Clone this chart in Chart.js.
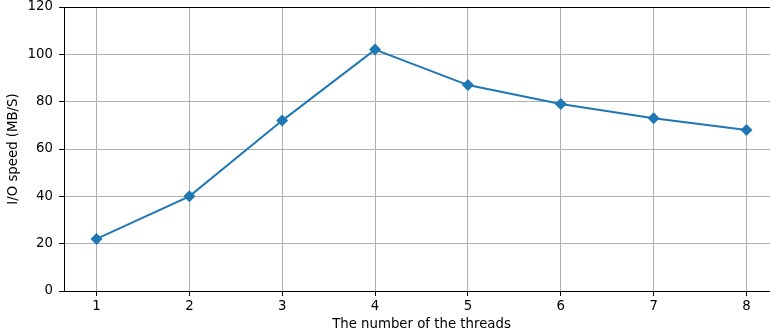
<!DOCTYPE html>
<html>
<head>
<meta charset="utf-8">
<script src="https://cdn.jsdelivr.net/npm/chart.js@4/dist/chart.umd.min.js"></script>
<style>
html,body{margin:0;padding:0;background:#fff;overflow:hidden;width:770px;height:335px;}
canvas{display:block;}
</style>
</head>
<body>
<canvas id="c" width="785" height="335" style="width:785px;height:335px;"></canvas>
<script>
const threads = [1, 2, 3, 4, 5, 6, 7, 8];
const ioSpeed = [22, 40, 72, 102, 87, 79, 73, 68];
const yTicks = [0, 20, 40, 60, 80, 100, 120];
const xLabel = 'The number of the threads';
const yLabel = 'I/O speed (MB/S)';

const FONT = {family: '"DejaVu Sans", sans-serif', size: 13.3};

const topSpine = {
  id: 'topSpine',
  afterDraw(chart) {
    const a = chart.chartArea, ctx = chart.ctx;
    ctx.save();
    ctx.strokeStyle = '#000';
    ctx.lineWidth = 1;
    ctx.beginPath();
    ctx.moveTo(a.left, Math.round(a.top) + 0.5);
    ctx.lineTo(a.right, Math.round(a.top) + 0.5);
    ctx.stroke();
    ctx.restore();
  }
};

new Chart(document.getElementById('c'), {
  type: 'line',
  data: {
    datasets: [{
      data: threads.map((t, i) => ({x: t, y: ioSpeed[i]})),
      borderColor: '#1f77b4',
      backgroundColor: '#1f77b4',
      borderWidth: 2,
      pointStyle: 'rectRot',
      pointRadius: 6,
      pointHoverRadius: 6,
      pointBorderWidth: 0,
      tension: 0,
      fill: false
    }]
  },
  options: {
    responsive: false,
    maintainAspectRatio: false,
    animation: false,
    events: [],
    layout: {padding: {top: 7, right: 1, left: 0, bottom: 0}},
    plugins: {legend: {display: false}, tooltip: {enabled: false}},
    scales: {
      x: {
        type: 'linear',
        min: 0.65,
        max: 8.35,
        afterBuildTicks(scale) { scale.ticks = threads.map(v => ({value: v})); },
        afterFit(scale) { scale.height = 44; scale.paddingLeft = 0; scale.paddingRight = 0; },
        grid: {color: '#b0b0b0', lineWidth: 1, drawTicks: true, tickLength: 5, tickColor: '#000'},
        border: {color: '#000', width: 1},
        ticks: {color: '#000', font: FONT, padding: 3, maxRotation: 0, autoSkip: false},
        title: {display: true, text: xLabel, color: '#000', font: FONT, padding: {top: 0, bottom: 2}}
      },
      y: {
        min: 0,
        max: 120,
        afterBuildTicks(scale) { scale.ticks = yTicks.map(v => ({value: v})); },
        afterFit(scale) { scale.width = 64; scale.paddingTop = 0; scale.paddingBottom = 0; },
        grid: {color: '#b0b0b0', lineWidth: 1, drawTicks: true, tickLength: 5, tickColor: '#000'},
        border: {color: '#000', width: 1},
        ticks: {color: '#000', font: FONT, padding: 6},
        title: {display: true, text: yLabel, color: '#000', font: FONT, padding: {top: 6, bottom: 0}}
      }
    }
  },
  plugins: [topSpine]
});
</script>
</body>
</html>
